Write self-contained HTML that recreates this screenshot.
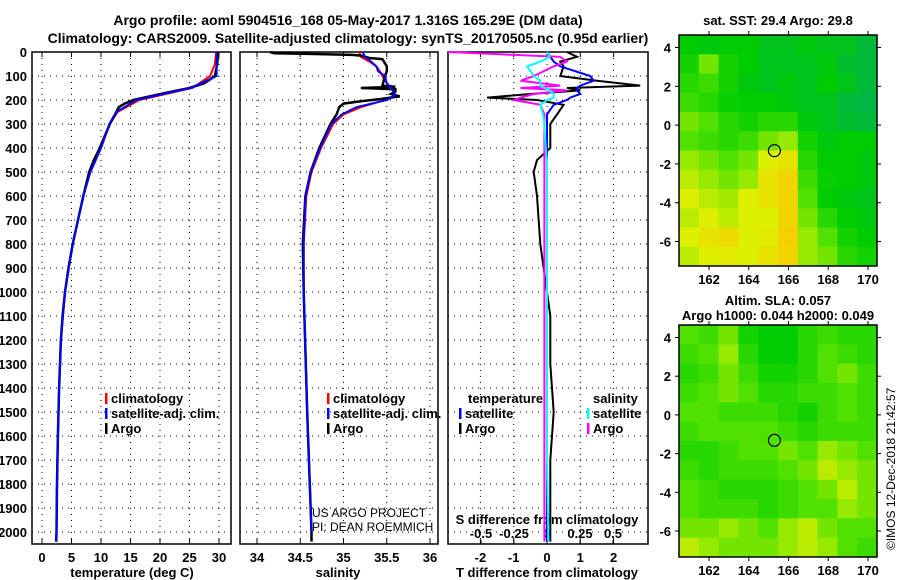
<!DOCTYPE html>
<html><head><meta charset="utf-8">
<style>
body{margin:0;background:#fff;}
svg{display:block;font-family:"Liberation Sans",sans-serif;}
.b{font-weight:bold;font-size:13px;}
.t{font-weight:bold;font-size:14px;}
</style></head><body>
<svg id="c" width="900" height="580" viewBox="0 0 900 580">
<text class="t" x="348" y="25" text-anchor="middle">Argo profile: aoml 5904516_168 05-May-2017 1.316S 165.29E (DM data)</text>
<text class="t" x="348" y="43" text-anchor="middle">Climatology: CARS2009. Satellite-adjusted climatology: synTS_20170505.nc (0.95d earlier)</text>
<g id="g"></g>
</svg>
<script>
// ---- data ----
const depthTicks=[0,100,200,300,400,500,600,700,800,900,1000,1100,1200,1300,1400,1500,1600,1700,1800,1900,2000];
const tempTicks=[0,5,10,15,20,25,30];
const salTicks=[34,34.5,35,35.5,36];
const salTickLabels=["34","34.5","35","35.5","36"];
const tdTicks=[-2,-1,0,1,2];
const sdTicks=[-0.5,-0.25,0,0.25,0.5];
const sdTickLabels=["-0.5","-0.25","0","0.25","0.5"];
const argoDepth=[0,10,50,100,130,150,170,200,215,230,250,300,400,450,500,600,700,800,900,1000,1100,1200,1400,1600,1800,2000,2040];
const argoTemp=[29.8,29.8,29.7,29.3,27.5,25,21,15.5,14,13,12.6,11.5,9.8,8.8,8,7,6.1,5.2,4.5,3.9,3.5,3.2,2.9,2.7,2.55,2.45,2.4];
const climDepth=[0,50,100,150,200,250,300,400,500,600,700,800,1000,1200,1400,1600,1800,2000,2040];
const climTemp=[29.5,29.3,28.5,25.5,16.5,12.8,11.5,10,8.2,7,6.1,5.2,3.9,3.2,2.9,2.7,2.55,2.45,2.4];
const satTemp=[29.6,29.6,29.6,25.2,16,12.6,11.4,10,8.2,7,6.1,5.2,3.9,3.2,2.9,2.7,2.55,2.45,2.4];
const argoSDepth=[0,5,8,12,15,25,30,60,80,100,140,145,150,155,165,175,185,195,205,215,230,260,300,400,500,600,800,1000,1500,2000,2040];
const argoSal=[34.15,34.2,34.6,35.1,35.2,35.3,35.45,35.5,35.5,35.48,35.45,35.6,35.2,35.6,35.6,35.55,35.65,35.45,35.2,35.0,34.95,34.92,34.85,34.72,34.62,34.56,34.53,34.54,34.58,34.63,34.63];
const climSal=[35.18,35.2,35.3,35.38,35.42,35.45,35.5,35.55,35.6,35.48,35.2,35.0,34.88,34.74,34.63,34.57,34.54,34.54,34.58,34.63];
const satSal=[35.22,35.25,35.32,35.38,35.4,35.48,35.5,35.55,35.6,35.5,35.15,34.98,34.86,34.73,34.62,34.56,34.54,34.54,34.58,34.63];
const climSDepth=[0,20,40,60,80,100,130,150,180,200,230,260,300,400,500,600,800,1000,1500,2000];
const diffDepth=[0,20,40,60,100,120,140,150,160,175,190,200,220,260,300,400,450,500,600,800,1000,1100,1300,1500,1700,2000,2040];
const tDiffArgo=[0.6,0.9,0.4,0.5,0.4,1.5,2.8,0.6,1.0,-0.5,-1.8,-0.3,0.5,0.3,0.1,0.1,-0.3,-0.4,-0.3,-0.2,0,0.1,0.1,0.2,0.1,0.1,0.1];
const tDiffSat=[0,0.1,0.2,0.4,1.3,1.4,1.0,0.9,0.9,1.0,0.7,0.6,0.2,0,0,0,0,0,0,0,0,0,0,0,0,0,0];
const sDiffArgo=[-0.75,0.1,0.15,0.05,-0.1,-0.2,0.1,-0.2,0.15,-0.1,-0.2,-0.25,-0.05,-0.02,-0.02,-0.02,-0.02,-0.02,-0.02,-0.02,-0.02,-0.02,-0.02,-0.02,-0.02,-0.02,-0.02];
const sDiffSat=[0,0.02,-0.05,-0.15,-0.1,-0.05,-0.05,-0.02,0.02,0.05,0.05,0.0,-0.05,-0.03,-0.02,-0.01,0,0,0,0,0,0,0,0,0,0.01,0.01];
const lonTicks=[162,164,166,168,170];
const latTicks=[4,2,0,-2,-4,-6];
const sstGrid=[
[0.30,0.28,0.30,0.30,0.25,0.25,0.28,0.25,0.25,0.20],
[0.35,0.55,0.35,0.30,0.25,0.25,0.25,0.28,0.22,0.20],
[0.40,0.45,0.35,0.28,0.25,0.28,0.25,0.30,0.25,0.20],
[0.45,0.40,0.32,0.30,0.30,0.28,0.25,0.25,0.20,0.18],
[0.55,0.50,0.40,0.35,0.40,0.40,0.28,0.25,0.22,0.20],
[0.50,0.45,0.40,0.45,0.55,0.60,0.35,0.28,0.30,0.30],
[0.60,0.55,0.50,0.55,0.70,0.75,0.40,0.30,0.30,0.28],
[0.65,0.60,0.55,0.60,0.75,0.80,0.45,0.32,0.30,0.28],
[0.70,0.65,0.62,0.70,0.75,0.80,0.50,0.30,0.28,0.25],
[0.65,0.70,0.65,0.70,0.70,0.80,0.55,0.40,0.30,0.28],
[0.70,0.75,0.78,0.70,0.72,0.82,0.60,0.50,0.35,0.30],
[0.65,0.70,0.72,0.70,0.75,0.80,0.60,0.55,0.40,0.35]];
const slaGrid=[
[0.50,0.45,0.55,0.35,0.30,0.30,0.40,0.45,0.40,0.40],
[0.45,0.50,0.60,0.40,0.30,0.30,0.40,0.50,0.45,0.40],
[0.40,0.45,0.55,0.45,0.35,0.35,0.40,0.50,0.55,0.45],
[0.45,0.50,0.55,0.50,0.40,0.40,0.45,0.45,0.50,0.45],
[0.50,0.50,0.45,0.45,0.45,0.40,0.35,0.45,0.50,0.45],
[0.45,0.50,0.50,0.50,0.50,0.45,0.40,0.45,0.45,0.45],
[0.40,0.40,0.45,0.50,0.50,0.55,0.50,0.60,0.55,0.50],
[0.45,0.40,0.45,0.45,0.45,0.50,0.55,0.65,0.60,0.55],
[0.50,0.45,0.40,0.40,0.40,0.45,0.50,0.55,0.65,0.55],
[0.50,0.45,0.45,0.45,0.40,0.45,0.50,0.50,0.60,0.55],
[0.55,0.55,0.60,0.55,0.50,0.60,0.65,0.55,0.50,0.50],
[0.65,0.60,0.55,0.55,0.55,0.60,0.65,0.60,0.50,0.45]];
const argoLon=165.29, argoLat=-1.316;

// ---- drawing ----
const NS="http://www.w3.org/2000/svg";
const G=document.getElementById('g');
function el(tag,attrs,parent){const e=document.createElementNS(NS,tag);for(const k in attrs)e.setAttribute(k,attrs[k]);(parent||G).appendChild(e);return e;}
function txt(x,y,s,attrs){const e=el('text',Object.assign({x:x,y:y},attrs||{}));e.textContent=s;return e;}
const y0=52, pxPer100=24;
const yD=d=>y0+d*pxPer100/100;
const yBot=544;
const xT=v=>42+v*(219-42)/30;
const xS=v=>257+(v-34)*(430-257)/2;
const xTD=v=>547+v*33.3;
const xSD=v=>547+v*132;

function panel(x1,x2,name){
  const g=el('g',{});
  
  
  el('rect',{x:x1,y:y0,width:x2-x1,height:yBot-y0,fill:'#fff',stroke:'#000','stroke-width':1.5},g);
  depthTicks.forEach(d=>{if(d>0)el('line',{x1:x1,x2:x2,y1:yD(d),y2:yD(d),stroke:'#000','stroke-dasharray':'1 5'},g);});
  return g;
}
function vgrid(g,xs,name){xs.forEach(x=>{el('line',{x1:x,x2:x,y1:y0,y2:yBot,stroke:'#000','stroke-dasharray':'1 5'},g);el('line',{x1:x,x2:x,y1:yBot,y2:yBot-5,stroke:'#000'},g);el('line',{x1:x,x2:x,y1:y0,y2:y0+5,stroke:'#000'},g);});}
function line(xs,ds,color,name,w){
  const p=xs.map((v,i)=>(i?'L':'M')+v.toFixed(1)+','+yD(ds[i]).toFixed(1)).join('');
  const e=el('path',{d:p,fill:'none',stroke:color,'stroke-width':w||2});
  
  
}
depthTicks.forEach(d=>{const t=txt(27,yD(d)+5,String(d),{class:'b','text-anchor':'end'});

});

const p1=panel(32,231,'temperature-panel');
vgrid(p1,tempTicks.map(xT));
tempTicks.forEach(v=>{const t=txt(xT(v),562,String(v),{class:'b','text-anchor':'middle'});});
txt(132,577,'temperature (deg C)',{class:'b','text-anchor':'middle'});
line(climTemp.map(xT),climDepth,'#f00','climatology-temperature-line');
line(argoTemp.map(xT),argoDepth,'#000','argo-temperature-line',2.5);
line(satTemp.map(xT),climDepth,'#00f','satellite-temperature-line');

const p2=panel(240,438,'salinity-panel');
vgrid(p2,salTicks.map(xS));
salTicks.forEach((v,i)=>{const t=txt(xS(v),562,salTickLabels[i],{class:'b','text-anchor':'middle'});});
txt(338,577,'salinity',{class:'b','text-anchor':'middle'});
line(climSal.map(xS),climSDepth,'#f00','climatology-salinity-line');
line(argoSal.map(xS),argoSDepth,'#000','argo-salinity-line',2.5);
line(satSal.map(xS),climSDepth,'#00f','satellite-salinity-line');
txt(312,517,'US ARGO PROJECT',{'font-size':'12px'});
txt(312,531,'PI: DEAN ROEMMICH',{'font-size':'12px'});

const p3=panel(448,648,'difference-panel');
vgrid(p3,tdTicks.map(xTD));
sdTicks.forEach(v=>{el('line',{x1:xSD(v),x2:xSD(v),y1:yBot,y2:yBot-4,stroke:'#000'},p3);});
tdTicks.forEach(v=>{const t=txt(xTD(v),562,String(v),{class:'b','text-anchor':'middle'});});
sdTicks.forEach((v,i)=>{const t=txt(xSD(v),538,sdTickLabels[i],{class:'b','text-anchor':'middle'});});
txt(547,524,'S difference from climatology',{class:'b','text-anchor':'middle'});
txt(547,577,'T difference from climatology',{class:'b','text-anchor':'middle'});
line(tDiffArgo.map(xTD),diffDepth,'#000','argo-t-diff-line');
line(tDiffSat.map(xTD),diffDepth,'#00f','satellite-t-diff-line');
line(sDiffArgo.map(xSD),diffDepth,'#f0f','argo-s-diff-line');
line(sDiffSat.map(xSD),diffDepth,'#0ff','satellite-s-diff-line');

function legend(x,y,items,name){
  const g=el('g',{});
  
  
  items.forEach((it,i)=>{
    if(it[1])el('rect',{x:x,y:y+i*15-10,width:2.5,height:11,fill:it[1]},g);
    const t=txt(x+(it[1]?6:0),y+i*15,it[0],{class:'b'});g.appendChild(t);
  });
}
legend(105,403,[['climatology','#f00'],['satellite-adj. clim.','#00f'],['Argo','#000']],'temperature-legend');
legend(327,403,[['climatology','#f00'],['satellite-adj. clim.','#00f'],['Argo','#000']],'salinity-legend');
legend(468,403,[['temperature',null]],'t-diff-legend-title');
legend(459,418,[['satellite','#00f'],['Argo','#000']],'t-diff-legend');
legend(593,403,[['salinity',null]],'s-diff-legend-title');
legend(587,418,[['satellite','#0ff'],['Argo','#f0f']],'s-diff-legend');

function col(v){
  const stops=[[0,[0,150,170]],[0.3,[0,205,0]],[0.5,[80,225,0]],[0.7,[220,240,0]],[0.85,[250,200,0]],[1,[250,170,0]]];
  for(let i=1;i<stops.length;i++){if(v<=stops[i][0]){const a=stops[i-1],b=stops[i],f=(v-a[0])/(b[0]-a[0]);return 'rgb('+a[1].map((c,k)=>Math.round(c+(b[1][k]-c)*f)).join(',')+')';}}
  return 'rgb(250,170,0)';
}
function map(top,bot,grid,name,lat4y,latStep){
  const L=679,R=877;
  const g=el('g',{});
  
  
  const rows=grid.length,cols=grid[0].length,cw=(R-L)/cols,ch=(bot-top)/rows;
  grid.forEach((r,i)=>r.forEach((v,j)=>{el('rect',{x:L+j*cw,y:top+i*ch,width:cw+0.5,height:ch+0.5,fill:col(v)},g);}));
  el('rect',{x:L,y:top,width:R-L,height:bot-top,fill:'none',stroke:'#000','stroke-width':1.5},g);
  const xL=lon=>709+(lon-162)*(868-709)/8;
  const yL=lat=>lat4y+(4-lat)*latStep;
  lonTicks.forEach(lon=>{el('line',{x1:xL(lon),x2:xL(lon),y1:bot,y2:bot+4,stroke:'#000'},g);el('line',{x1:xL(lon),x2:xL(lon),y1:top,y2:top-4,stroke:'#000'},g);
    const t=txt(xL(lon),bot+18,String(lon),{class:'b','text-anchor':'middle'});g.appendChild(t);});
  latTicks.forEach(lat=>{el('line',{x1:L,x2:L-4,y1:yL(lat),y2:yL(lat),stroke:'#000'},g);el('line',{x1:R,x2:R+4,y1:yL(lat),y2:yL(lat),stroke:'#000'},g);
    const t=txt(671,yL(lat)+5,String(lat),{class:'b','text-anchor':'end'});g.appendChild(t);});
  const m=el('circle',{cx:xL(argoLon),cy:yL(argoLat),r:6,fill:'none',stroke:'#000','stroke-width':1.2},g);
  
  
}
map(35,266,sstGrid,'sst-map',47.5,19.4);
map(325,557,slaGrid,'sla-map',337.5,19.35);
txt(778,25,'sat. SST: 29.4 Argo: 29.8',{class:'b','text-anchor':'middle'});
txt(778,305,'Altim. SLA: 0.057',{class:'b','text-anchor':'middle'});
txt(778,320,'Argo h1000: 0.044 h2000: 0.049',{class:'b','text-anchor':'middle'});
const cr=txt(0,0,'©IMOS 12-Dec-2018 21:42:57',{'font-size':'12px','transform':'translate(895,550) rotate(-90)'});


</script>
</body></html>
